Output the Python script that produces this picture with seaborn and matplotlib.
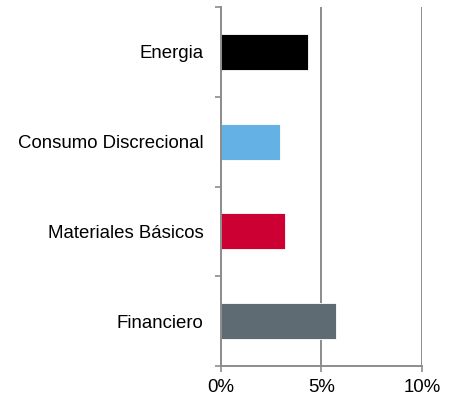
import matplotlib
matplotlib.use("Agg")
import matplotlib.pyplot as plt
from matplotlib.ticker import FixedLocator, PercentFormatter
import seaborn as sns
import pandas as pd

categories = ["Energia", "Consumo Discrecional", "Materiales Básicos", "Financiero"]
values = [4.35, 2.95, 3.2, 5.73]
colors = ["#000000", "#63b1e5", "#cc0033", "#5f6b73"]
x_ticks = [0, 5, 10]

sns.set_theme(style="white")
plt.rcParams["font.family"] = ["Liberation Sans", "DejaVu Sans"]

df = pd.DataFrame({"sector": categories, "weight": values})

fig = plt.figure(figsize=(4.49, 4.0), dpi=100)
ax = fig.add_axes([0.4915, 0.085, 0.4485, 0.8975])

sns.barplot(data=df, x="weight", y="sector", hue="sector", palette=colors,
            order=categories, legend=False, width=0.4, orient="h", saturation=1,
            edgecolor="white", linewidth=0.6, ax=ax)

grey = "#8c8c8c"
ax.set_xlim(0, 10)
ax.set_ylim(len(categories) - 0.5, -0.5)
ax.set_xticks(x_ticks)
ax.xaxis.set_major_formatter(PercentFormatter(decimals=0))
ax.grid(axis="x", color=grey, linewidth=1.4)
ax.set_axisbelow(True)
ax.set_xlabel("")
ax.set_ylabel("")

sns.despine(ax=ax, top=True, right=True)
for side in ["left", "bottom"]:
    ax.spines[side].set_color(grey)
    ax.spines[side].set_linewidth(1.4)

# category separators as minor ticks on the left
ax.yaxis.set_minor_locator(FixedLocator([i - 0.5 for i in range(len(categories) + 1)]))
ax.tick_params(axis="y", which="major", length=0, pad=12.5, labelsize=13.4, labelcolor="black")
ax.tick_params(axis="y", which="minor", left=True, length=4.5, width=1.2, color=grey)
ax.tick_params(axis="x", which="major", bottom=True, length=4.5, width=1.2, color=grey,
               pad=5, labelsize=13.4, labelcolor="black")

fig.savefig("out.png", dpi=100)
